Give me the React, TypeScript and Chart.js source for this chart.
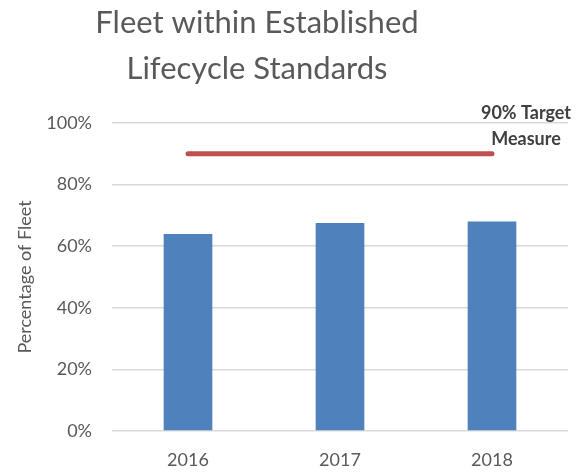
import React, { useEffect, useRef } from "react";
import { Chart, registerables } from "chart.js";

Chart.register(...registerables);

const categories = ["2016", "2017", "2018"];
const fleetPct = [64, 67.5, 68];
const targetPct = [90, 90, 90];
const yMin = 0;
const yMax = 100;
const yStep = 20;
const titleLines = ["Fleet within Established", "Lifecycle Standards"];
const targetLabel = ["90% Target", "Measure"];
const yAxisTitle = "Percentage of Fleet";

const FONT = "Lato, 'Open Sans', sans-serif";

const titlePlugin = {
  id: "customTitle",
  afterDraw(chart: any) {
    const ctx = chart.ctx;
    ctx.save();
    ctx.fillStyle = "#595959";
    ctx.font = `31px ${FONT}`;
    ctx.textAlign = "center";
    ctx.textBaseline = "alphabetic";
    ctx.fillText(titleLines[0], 257, 33);
    ctx.fillText(titleLines[1], 257, 79);
    ctx.restore();
  },
};

const targetLabelPlugin = {
  id: "targetLabel",
  afterDatasetsDraw(chart: any) {
    const ctx = chart.ctx;
    const xs = chart.scales.x;
    const ys = chart.scales.y;
    const last = targetPct.length - 1;
    const px = xs.getPixelForValue(last);
    const py = ys.getPixelForValue(targetPct[last]);
    ctx.save();
    ctx.fillStyle = "#404040";
    ctx.font = `bold 18px ${FONT}`;
    ctx.textAlign = "center";
    ctx.textBaseline = "middle";
    ctx.fillText(targetLabel[0], px + 34, py - 41);
    ctx.fillText(targetLabel[1], px + 34, py - 15);
    ctx.restore();
  },
};

export default function App() {
  const ref = useRef<HTMLCanvasElement | null>(null);
  useEffect(() => {
    document.body.style.margin = "0";
    const canvas = ref.current;
    if (!canvas) return;
    const chart = new Chart(canvas, {
      type: "bar",
      data: {
        labels: categories,
        datasets: [
          {
            type: "line",
            label: "90% Target Measure",
            data: targetPct,
            borderColor: "#C0504D",
            borderWidth: 5,
            borderCapStyle: "round",
            pointRadius: 0,
            fill: false,
            order: 0,
          } as any,
          {
            type: "bar",
            label: "Percentage of Fleet",
            data: fleetPct,
            backgroundColor: "#4F81BD",
            barPercentage: 0.32,
            categoryPercentage: 1,
            order: 1,
          },
        ],
      },
      options: {
        responsive: false,
        animation: false,
        layout: { padding: { top: 123, right: 13, left: 0, bottom: 0 } },
        plugins: {
          legend: { display: false },
          title: { display: false },
          tooltip: { enabled: false },
        },
        scales: {
          x: {
            grid: { display: false },
            border: { display: false },
            ticks: {
              color: "#595959",
              font: { family: FONT, size: 18 },
              padding: 10,
            },
            afterFit(s: any) {
              s.height = 43;
            },
          },
          y: {
            min: yMin,
            max: yMax,
            grid: { color: "#D9D9D9", lineWidth: 1.5, drawTicks: false },
            border: { display: false },
            ticks: {
              stepSize: yStep,
              color: "#595959",
              font: { family: FONT, size: 18 },
              padding: 20,
              callback: (v: any) => `${v}%`,
            },
            title: {
              display: true,
              text: yAxisTitle,
              color: "#595959",
              font: { family: FONT, size: 18 },
              padding: { top: 14, bottom: 0 },
            },
            afterFit(s: any) {
              s.width = 112;
            },
          },
        },
      },
      plugins: [titlePlugin, targetLabelPlugin],
    });
    return () => chart.destroy();
  }, []);
  return <canvas ref={ref} width={581} height={474} style={{ display: "block" }} />;
}
